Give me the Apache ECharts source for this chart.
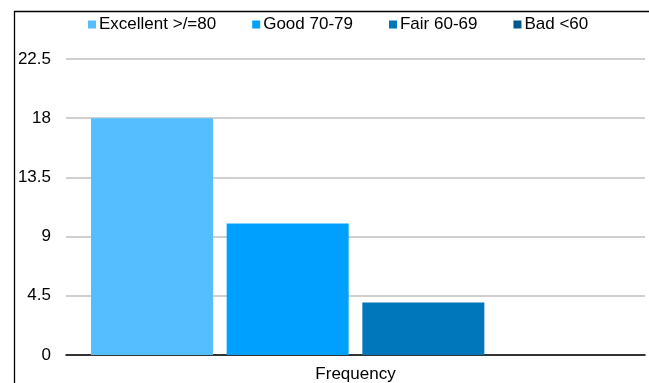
<!DOCTYPE html>
<html>
<head>
<meta charset="utf-8">
<script src="https://cdn.jsdelivr.net/npm/echarts@6/dist/echarts.min.js"></script>
<style>
  html, body { margin: 0; padding: 0; background: #fff; }
  #chart { width: 649px; height: 383px; }
</style>
</head>
<body>
<div id="chart"></div>
<script>
// Grade bands and how many students fall into each
const categories = ['Frequency'];
const seriesNames = ['Excellent >/=80', 'Good 70-79', 'Fair 60-69', 'Bad <60'];
const excellent = [18];
const good = [10];
const fair = [4];
const bad = [0];
const yTicks = [0, 4.5, 9, 13.5, 18, 22.5];

const colors = ['#55BEFF', '#00A0FF', '#0077BA', '#00578F'];
const values = [excellent, good, fair, bad];

const chart = echarts.init(document.getElementById('chart'));
chart.setOption({
  animation: false,
  backgroundColor: '#fff',
  textStyle: { fontFamily: 'Liberation Sans, Arial, sans-serif' },
  graphic: [{
    type: 'rect',
    shape: { x: 14.5, y: 11.5, width: 700, height: 500 },
    style: { fill: 'none', stroke: '#000', lineWidth: 1.3 },
    silent: true
  }],
  legend: {
    left: 88, top: 16, padding: 0,
    itemWidth: 8, itemHeight: 8, itemGap: 36,
    icon: 'rect',
    textStyle: { fontSize: 17, color: '#000', padding: [0, 0, 0, -2] },
    data: seriesNames
  },
  grid: { left: 66, right: 4, top: 59, bottom: 24, containLabel: false },
  xAxis: {
    type: 'category',
    data: categories,
    axisLine: { lineStyle: { color: '#000', width: 1.6 } },
    axisTick: { show: false },
    axisLabel: { fontSize: 17, color: '#000', margin: 11 }
  },
  yAxis: {
    type: 'value',
    min: yTicks[0], max: yTicks[yTicks.length - 1], interval: 4.5,
    axisLine: { show: false },
    axisTick: { show: false },
    axisLabel: { fontSize: 17, color: '#000', margin: 15 },
    splitLine: { lineStyle: { color: '#c0c0c0', width: 1.5 } }
  },
  series: seriesNames.map((name, i) => ({
    name: name,
    type: 'bar',
    data: values[i],
    barWidth: 122,
    barGap: '11.2%',
    itemStyle: { color: colors[i] }
  }))
});
</script>
</body>
</html>
